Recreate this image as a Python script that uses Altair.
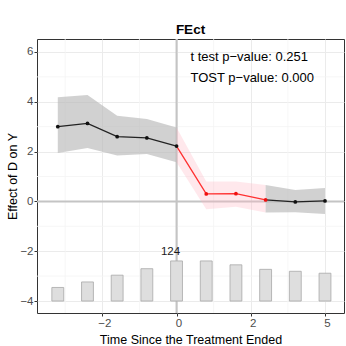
import altair as alt
import pandas as pd

# ---- data ----
periods = [-4, -3, -2, -1, 0, 1, 2, 3, 4, 5]
effects = [3.00, 3.13, 2.60, 2.55, 2.22, 0.30, 0.31, 0.06, -0.02, 0.02]
ci_lower = [1.94, 2.14, 1.84, 1.90, 1.57, -0.31, -0.21, -0.45, -0.44, -0.51]
ci_upper = [4.18, 4.27, 3.44, 3.31, 2.97, 0.80, 0.80, 0.66, 0.46, 0.54]
counts = [42, 59, 80, 100, 124, 124, 112, 98, 92, 86]
segments = {"pre": [-4, -3, -2, -1, 0], "exit": [0, 1, 2, 3], "post": [3, 4, 5]}
red_points = [1, 2, 3]

x_tick_values = [-2.5, 0, 2.5, 5]
x_tick_labels = ["−2", "0", "2", "5"]
x_minor = [-3.75, -1.25, 1.25, 3.75]
y_tick_values = [-4, -2, 0, 2, 4, 6]
y_minor = [-3, -1, 1, 3, 5]
annotation = ["t test p−value: 0.251", "TOST p−value: 0.000"]
title_text = "FEct"
x_title = "Time Since the Treatment Ended"
y_title = "Effect of D on Y"

# ---- tables ----
rows = []
for seg, ts in segments.items():
    for t in ts:
        i = periods.index(t)
        rows.append({"seg": seg, "t": t, "est": effects[i], "lo": ci_lower[i], "hi": ci_upper[i]})
seg_df = pd.DataFrame(rows)
pts_df = pd.DataFrame({"t": periods, "est": effects,
                       "col": ["red" if t in red_points else "black" for t in periods]})
bar_df = pd.DataFrame({"t": periods, "count": counts})
xlab_df = pd.DataFrame({"v": x_tick_values, "lab": x_tick_labels})

FONT = "Liberation Sans"
PLOT_H = 274
xs = alt.Scale(domain=[-4.7, 5.64], nice=False, zero=False)
ys = alt.Scale(domain=[-4.48, 6.52], nice=False, zero=False)

x_axis = alt.Axis(values=x_tick_values, labels=False, labelOpacity=0, labelFontSize=0,
                  title=x_title, grid=True, gridColor="#EBEBEB", gridWidth=1,
                  tickColor="#333333", tickSize=3, domain=False,
                  titleFontSize=12.5, titleFontWeight="normal", titleColor="#000000",
                  titlePadding=17, titleFont=FONT)
y_axis = alt.Axis(values=y_tick_values,
                  title=y_title, grid=True, gridColor="#EBEBEB", gridWidth=1,
                  tickColor="#333333", tickSize=3, domain=False,
                  labelColor="#4D4D4D", labelFontSize=11.5, labelPadding=1,
                  titleFontSize=12.5, titleFontWeight="normal", titleColor="#000000",
                  titlePadding=0, labelFont=FONT, titleFont=FONT)


def X(field):
    return alt.X(field, scale=xs, axis=x_axis, title=x_title)


def Y(field):
    return alt.Y(field, scale=ys, axis=y_axis, title=y_title)


# minor grid
minor_x = alt.Chart(pd.DataFrame({"v": x_minor})).mark_rule(color="#F4F4F4", strokeWidth=0.8).encode(
    x=X("v:Q"))
minor_y = alt.Chart(pd.DataFrame({"v": y_minor})).mark_rule(color="#F4F4F4", strokeWidth=0.8).encode(
    y=Y("v:Q"))

# reference lines
ref_v = alt.Chart(pd.DataFrame({"v": [0]})).mark_rule(color="#C4C4C4", strokeWidth=2).encode(
    x=X("v:Q"))
ref_h = alt.Chart(pd.DataFrame({"v": [0]})).mark_rule(color="#C4C4C4", strokeWidth=2).encode(
    y=Y("v:Q"))

# x tick labels (drawn through the x scale)
xlabels = alt.Chart(xlab_df).mark_text(
    font=FONT, fontSize=11.5, color="#4D4D4D", baseline="middle", dx=2.5
).encode(x=X("v:Q"), y=alt.value(PLOT_H + 11), text="lab:N")

# count bars
bars = alt.Chart(bar_df).transform_joinaggregate(
    maxc="max(count)"
).transform_calculate(
    x0="datum.t - 0.2", x1="datum.t + 0.2", base="-4", top="-4 + datum.count / datum.maxc * 1.61"
).mark_rect(fill="#DEDEDE", stroke="#A8A8A8", strokeWidth=0.8).encode(
    x=X("x0:Q"), x2="x1:Q",
    y=Y("base:Q"), y2="top:Q")

bar_label = alt.Chart(bar_df).transform_joinaggregate(
    maxc="max(count)"
).transform_filter("datum.count == datum.maxc").transform_window(
    rn="row_number()"
).transform_filter("datum.rn == 1").transform_calculate(
    top="-4 + datum.count / datum.maxc * 1.61"
).mark_text(font=FONT, fontSize=11.5, color="#1A1A1A", dy=-9, dx=-6).encode(
    x=X("t:Q"), y=Y("top:Q"),
    text="count:Q")


# CI bands
def band(seg, color, opacity):
    return alt.Chart(seg_df).transform_filter(f"datum.seg == '{seg}'").mark_area(
        color=color, opacity=opacity).encode(
        x=X("t:Q"), y=Y("lo:Q"), y2="hi:Q")


def line(seg, color):
    return alt.Chart(seg_df).transform_filter(f"datum.seg == '{seg}'").mark_line(
        color=color, strokeWidth=1.3).encode(
        x=X("t:Q"), y=Y("est:Q"))


points = alt.Chart(pts_df).mark_circle(size=14, opacity=1).encode(
    x=X("t:Q"), y=Y("est:Q"),
    color=alt.Color("col:N", scale=alt.Scale(domain=["black", "red"], range=["#111111", "#F01010"]),
                    legend=None))

annot = alt.Chart(pd.DataFrame({"a": [0]})).mark_text(
    font=FONT, fontSize=13, align="left", baseline="middle", lineHeight=20.7, color="#000000"
).encode(x=alt.value(153.5), y=alt.value(18), text=alt.value(annotation))

chart = alt.layer(
    minor_x, minor_y, ref_v, ref_h, bars, bar_label,
    band("pre", "#B8B8B8", 0.65), band("exit", "#FFB3C1", 0.3), band("post", "#B8B8B8", 0.65),
    line("pre", "#222222"), line("exit", "#FF3030"), line("post", "#222222"),
    points, annot, xlabels
).properties(
    width=307, height=PLOT_H,
    title=alt.TitleParams(title_text, font=FONT, fontSize=13.5, fontWeight="bold",
                          anchor="middle", offset=2, color="#000000"),
    autosize=alt.AutoSizeParams(type="none"),
    padding={"left": 37, "top": 39, "right": 2, "bottom": 33},
    background="#FFFFFF"
).configure_view(
    stroke="#333333", strokeWidth=1
).configure_axisX(
    labels=False, labelOpacity=0
)

chart.save("out.html", embed_options={"renderer": "svg", "actions": False})
